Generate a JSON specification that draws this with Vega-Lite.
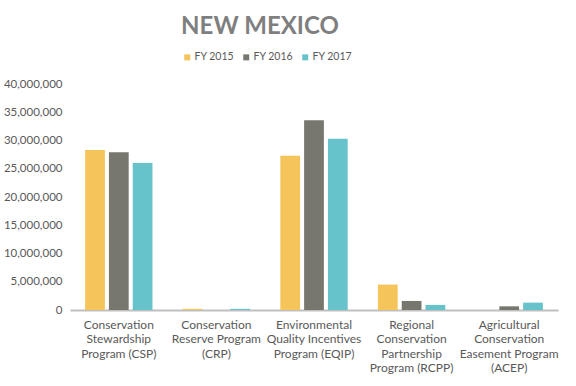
{
  "$schema": "https://vega.github.io/schema/vega-lite/v6.json",
  "autosize": {"type": "none"},
  "width": 488,
  "height": 226,
  "padding": {"left": 70, "top": 84, "right": 18, "bottom": 76},
  "background": "white",
  "config": {
    "font": "Lato",
    "view": {"stroke": null}
  },
  "title": {
    "text": "NEW MEXICO",
    "fontSize": 24,
    "fontWeight": "bold",
    "color": "#7f7f7f",
    "anchor": "middle",
    "frame": "group",
    "dx": -54,
    "offset": 13
  },
  "data": {
    "values": [
      {"program": "Conservation|Stewardship|Program (CSP)", "year": "FY 2015", "amount": 28300000},
      {"program": "Conservation|Stewardship|Program (CSP)", "year": "FY 2016", "amount": 27900000},
      {"program": "Conservation|Stewardship|Program (CSP)", "year": "FY 2017", "amount": 26000000},
      {"program": "Conservation|Reserve Program|(CRP)", "year": "FY 2015", "amount": 200000},
      {"program": "Conservation|Reserve Program|(CRP)", "year": "FY 2016", "amount": 0},
      {"program": "Conservation|Reserve Program|(CRP)", "year": "FY 2017", "amount": 200000},
      {"program": "Environmental|Quality Incentives|Program (EQIP)", "year": "FY 2015", "amount": 27300000},
      {"program": "Environmental|Quality Incentives|Program (EQIP)", "year": "FY 2016", "amount": 33600000},
      {"program": "Environmental|Quality Incentives|Program (EQIP)", "year": "FY 2017", "amount": 30300000},
      {"program": "Regional|Conservation|Partnership|Program (RCPP)", "year": "FY 2015", "amount": 4500000},
      {"program": "Regional|Conservation|Partnership|Program (RCPP)", "year": "FY 2016", "amount": 1600000},
      {"program": "Regional|Conservation|Partnership|Program (RCPP)", "year": "FY 2017", "amount": 900000},
      {"program": "Agricultural|Conservation|Easement Program|(ACEP)", "year": "FY 2015", "amount": 0},
      {"program": "Agricultural|Conservation|Easement Program|(ACEP)", "year": "FY 2016", "amount": 650000},
      {"program": "Agricultural|Conservation|Easement Program|(ACEP)", "year": "FY 2017", "amount": 1300000}
    ]
  },
  "mark": {"type": "bar"},
  "encoding": {
    "x": {
      "field": "program",
      "type": "nominal",
      "sort": null,
      "scale": {"paddingInner": 0.31, "paddingOuter": 0.155},
      "axis": {
        "title": null,
        "labelAngle": 0,
        "labelExpr": "split(datum.label, '|')",
        "labelFontSize": 12,
        "labelColor": "#595959",
        "labelLineHeight": 14.5,
        "labelPadding": 9,
        "ticks": false,
        "domainColor": "#bfbfbf",
        "domainWidth": 2,
        "labelLimit": 200
      }
    },
    "xOffset": {
      "field": "year",
      "type": "nominal",
      "scale": {"paddingInner": 0.17}
    },
    "y": {
      "field": "amount",
      "type": "quantitative",
      "scale": {"domain": [0, 40000000]},
      "axis": {
        "title": null,
        "values": [0, 5000000, 10000000, 15000000, 20000000, 25000000, 30000000, 35000000, 40000000],
        "format": ",.0f",
        "grid": false,
        "domain": false,
        "ticks": false,
        "labelFontSize": 11.5,
        "labelColor": "#595959",
        "labelPadding": 8
      }
    },
    "color": {
      "field": "year",
      "type": "nominal",
      "scale": {"domain": ["FY 2015", "FY 2016", "FY 2017"], "range": ["#F5C45A", "#77776E", "#66C2CB"]},
      "legend": {
        "title": null,
        "orient": "none",
        "direction": "horizontal",
        "legendX": 112,
        "legendY": -32,
        "symbolType": "square",
        "symbolSize": 36,
        "labelFontSize": 10.5,
        "labelColor": "#595959",
        "columnPadding": 6,
        "labelOffset": 2
      }
    }
  }
}
